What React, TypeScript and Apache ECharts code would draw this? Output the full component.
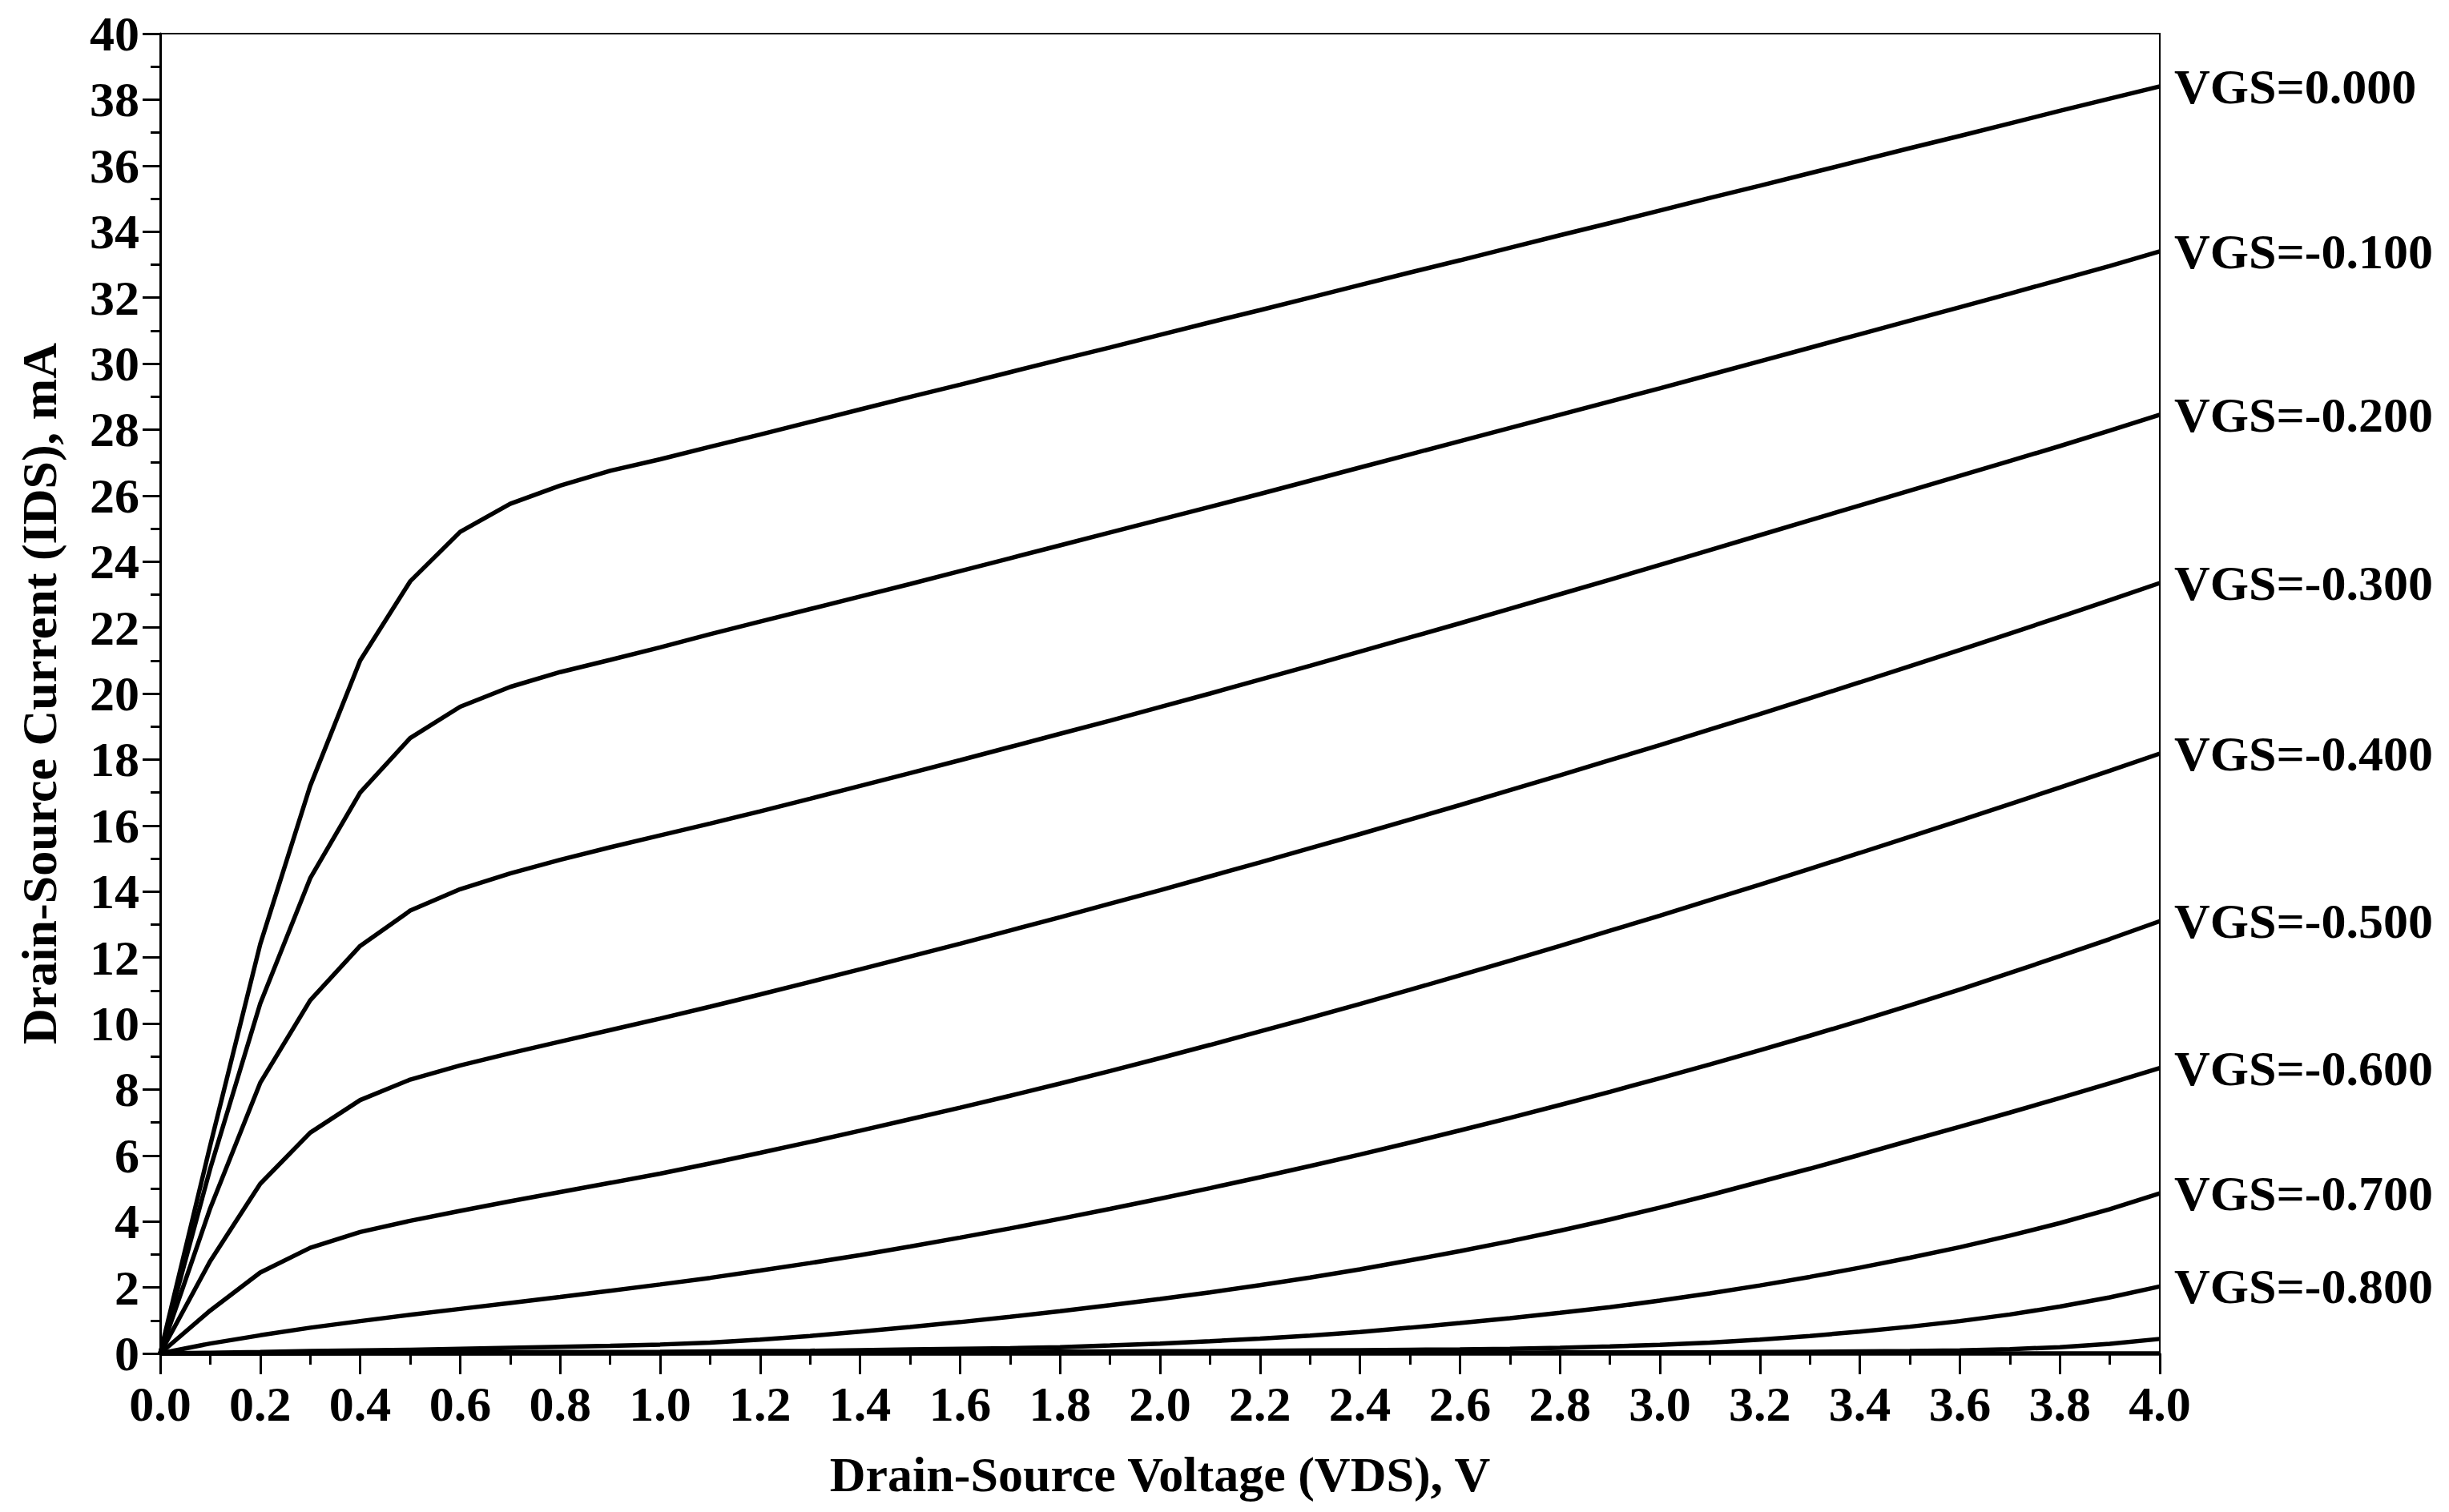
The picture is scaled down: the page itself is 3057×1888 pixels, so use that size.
import React, { useEffect, useRef } from "react";
import * as echarts from "echarts";

// Drain-source voltage samples (V)
const vds = [
  0.0, 0.1, 0.2, 0.3, 0.4, 0.5, 0.6, 0.7, 0.8, 0.9,
  1.0, 1.1, 1.2, 1.3, 1.4, 1.5, 1.6, 1.7, 1.8, 1.9,
  2.0, 2.1, 2.2, 2.3, 2.4, 2.5, 2.6, 2.7, 2.8, 2.9,
  3.0, 3.1, 3.2, 3.3, 3.4, 3.5, 3.6, 3.7, 3.8, 3.9, 4.0,
];

// Drain-source current (mA) for each gate voltage
const ids_vgs_000 = [
  0, 6.3, 12.4, 17.2, 21.0, 23.4, 24.9, 25.75, 26.3, 26.75,
  27.1, 27.48, 27.85, 28.23, 28.61, 28.99, 29.36, 29.74, 30.12, 30.49,
  30.87, 31.25, 31.62, 32.0, 32.38, 32.76, 33.13, 33.51, 33.89, 34.26,
  34.64, 35.02, 35.39, 35.77, 36.15, 36.53, 36.9, 37.28, 37.66, 38.03, 38.4,
];
const ids_vgs_010 = [
  0, 5.6, 10.6, 14.4, 17.0, 18.65, 19.6, 20.2, 20.65, 21.02,
  21.4, 21.8, 22.18, 22.56, 22.94, 23.32, 23.71, 24.1, 24.49, 24.88,
  25.27, 25.66, 26.05, 26.45, 26.85, 27.25, 27.65, 28.05, 28.45, 28.85,
  29.25, 29.66, 30.07, 30.48, 30.89, 31.3, 31.71, 32.12, 32.54, 32.96, 33.4,
];
const ids_vgs_020 = [
  0, 4.4, 8.2, 10.7, 12.35, 13.42, 14.07, 14.55, 14.96, 15.34,
  15.7, 16.06, 16.43, 16.81, 17.2, 17.59, 17.98, 18.38, 18.78, 19.18,
  19.59, 20.0, 20.42, 20.84, 21.27, 21.7, 22.13, 22.57, 23.01, 23.45,
  23.9, 24.35, 24.8, 25.25, 25.7, 26.15, 26.6, 27.05, 27.5, 27.97, 28.45,
];
const ids_vgs_030 = [
  0, 2.8, 5.14, 6.69, 7.68, 8.3, 8.73, 9.1, 9.45, 9.8,
  10.15, 10.51, 10.88, 11.26, 11.64, 12.03, 12.42, 12.82, 13.22, 13.63,
  14.04, 14.46, 14.88, 15.31, 15.74, 16.18, 16.62, 17.07, 17.52, 17.98,
  18.44, 18.91, 19.38, 19.86, 20.34, 20.83, 21.32, 21.82, 22.32, 22.83, 23.35,
];
const ids_vgs_040 = [
  0, 1.3, 2.45, 3.2, 3.68, 4.02, 4.32, 4.61, 4.89, 5.17,
  5.45, 5.76, 6.08, 6.41, 6.75, 7.1, 7.45, 7.81, 8.18, 8.56,
  8.95, 9.35, 9.76, 10.17, 10.59, 11.02, 11.46, 11.9, 12.35, 12.81,
  13.27, 13.74, 14.21, 14.69, 15.17, 15.66, 16.15, 16.65, 17.15, 17.66, 18.18,
];
const ids_vgs_050 = [
  0, 0.3, 0.55, 0.78, 0.98, 1.17, 1.35, 1.53, 1.71, 1.9,
  2.09, 2.29, 2.51, 2.74, 2.98, 3.24, 3.51, 3.79, 4.08, 4.38,
  4.69, 5.01, 5.34, 5.68, 6.03, 6.39, 6.76, 7.14, 7.53, 7.93,
  8.34, 8.76, 9.19, 9.63, 10.08, 10.55, 11.03, 11.53, 12.04, 12.56, 13.1,
];
const ids_vgs_060 = [
  0, 0.02, 0.04, 0.07, 0.09, 0.11, 0.14, 0.17, 0.2, 0.23,
  0.27, 0.33, 0.42, 0.53, 0.66, 0.8, 0.95, 1.11, 1.28, 1.46,
  1.65, 1.85, 2.07, 2.3, 2.55, 2.82, 3.1, 3.4, 3.72, 4.06,
  4.42, 4.8, 5.2, 5.6, 6.02, 6.45, 6.87, 7.3, 7.74, 8.19, 8.65,
];
const ids_vgs_070 = [
  0, 0.005, 0.01, 0.015, 0.02, 0.025, 0.03, 0.035, 0.04, 0.045,
  0.05, 0.06, 0.07, 0.08, 0.1, 0.12, 0.14, 0.16, 0.19, 0.24,
  0.3, 0.37, 0.45, 0.54, 0.65, 0.78, 0.92, 1.07, 1.23, 1.4,
  1.6, 1.82, 2.06, 2.32, 2.6, 2.9, 3.22, 3.57, 3.95, 4.37, 4.85,
];
const ids_vgs_080 = [
  0, 0.003, 0.005, 0.008, 0.01, 0.013, 0.015, 0.018, 0.02, 0.023,
  0.025, 0.028, 0.03, 0.033, 0.035, 0.04, 0.045, 0.05, 0.055, 0.06,
  0.065, 0.07, 0.08, 0.09, 0.1, 0.11, 0.12, 0.14, 0.17, 0.21,
  0.26, 0.33, 0.42, 0.53, 0.66, 0.81, 0.98, 1.18, 1.42, 1.7, 2.03,
];
const ids_vgs_090 = [
  0, 0, 0, 0.01, 0.01, 0.01, 0.01, 0.01, 0.01, 0.01,
  0.01, 0.01, 0.01, 0.01, 0.01, 0.01, 0.01, 0.01, 0.01, 0.02,
  0.02, 0.02, 0.02, 0.02, 0.02, 0.02, 0.02, 0.02, 0.03, 0.03,
  0.03, 0.03, 0.04, 0.05, 0.06, 0.07, 0.09, 0.13, 0.19, 0.29, 0.44,
];
const ids_vgs_100 = [
  0, 0, 0, 0, 0, 0, 0, 0, 0, 0,
  0, 0, 0, 0, 0, 0, 0, 0, 0, 0,
  0, 0, 0, 0, 0, 0, 0, 0, 0, 0,
  0, 0, 0, 0, 0, 0, 0, 0, 0, 0, 0,
];

const curveLabels = [
  "VGS=0.000", "VGS=-0.100", "VGS=-0.200", "VGS=-0.300", "VGS=-0.400",
  "VGS=-0.500", "VGS=-0.600", "VGS=-0.700", "VGS=-0.800", "", "",
];
const curves = [
  ids_vgs_000, ids_vgs_010, ids_vgs_020, ids_vgs_030, ids_vgs_040,
  ids_vgs_050, ids_vgs_060, ids_vgs_070, ids_vgs_080, ids_vgs_090, ids_vgs_100,
];

const FONT = "'Liberation Serif', 'Times New Roman', serif";

export default function App() {
  const ref = useRef<HTMLDivElement>(null);

  useEffect(() => {
    if (!ref.current) return;
    const chart = echarts.init(ref.current, undefined, { renderer: "svg" });

    const series = curves.map((arr, k) => ({
      type: "line",
      name: curveLabels[k] || "vgs" + k,
      data: vds.map((v, i) => [v, arr[i]]),
      showSymbol: false,
      symbol: "none",
      clip: false,
      z: 3,
      lineStyle: { color: "#000", width: 5.5 },
      endLabel: curveLabels[k]
        ? {
            show: true,
            formatter: curveLabels[k],
            color: "#000",
            fontSize: 62,
            fontWeight: "bold",
            fontFamily: FONT,
            distance: 18,
          }
        : { show: false },
      emphasis: { disabled: true },
    }));

    chart.setOption({
      animation: false,
      backgroundColor: "#fff",
      grid: {
        left: 200,
        right: 361,
        top: 42,
        bottom: 198,
        show: true,
        borderColor: "#000",
        borderWidth: 2,
        backgroundColor: "transparent",
      },
      xAxis: {
        type: "value",
        min: 0,
        max: 4,
        interval: 0.2,
        name: "Drain-Source Voltage (VDS), V",
        nameLocation: "middle",
        nameGap: 120,
        nameTextStyle: {
          color: "#000",
          fontSize: 62,
          fontWeight: "bold",
          fontFamily: FONT,
        },
        axisLine: { show: true, lineStyle: { color: "#000", width: 3 } },
        axisTick: { show: true, length: 26, lineStyle: { color: "#000", width: 3 } },
        minorTick: { show: true, splitNumber: 2, length: 14, lineStyle: { color: "#000", width: 3 } },
        splitLine: { show: false },
        minorSplitLine: { show: false },
        axisLabel: {
          color: "#000",
          fontSize: 62,
          fontWeight: "bold",
          fontFamily: FONT,
          margin: 32,
          formatter: (v: number) => v.toFixed(1),
        },
      },
      yAxis: {
        type: "value",
        min: 0,
        max: 40,
        interval: 2,
        name: "Drain-Source Current (IDS), mA",
        nameLocation: "middle",
        nameGap: 120,
        nameTextStyle: {
          color: "#000",
          fontSize: 62,
          fontWeight: "bold",
          fontFamily: FONT,
        },
        axisLine: { show: true, lineStyle: { color: "#000", width: 3 } },
        axisTick: { show: true, length: 22, lineStyle: { color: "#000", width: 3 } },
        minorTick: { show: true, splitNumber: 2, length: 12, lineStyle: { color: "#000", width: 3 } },
        splitLine: { show: false },
        minorSplitLine: { show: false },
        axisLabel: {
          color: "#000",
          fontSize: 62,
          fontWeight: "bold",
          fontFamily: FONT,
          margin: 26,
        },
      },
      series,
    });

    return () => chart.dispose();
  }, []);

  return (
    <div
      ref={ref}
      style={{
        position: "fixed",
        left: 0,
        top: 0,
        width: 3057,
        height: 1888,
        background: "#fff",
      }}
    />
  );
}
